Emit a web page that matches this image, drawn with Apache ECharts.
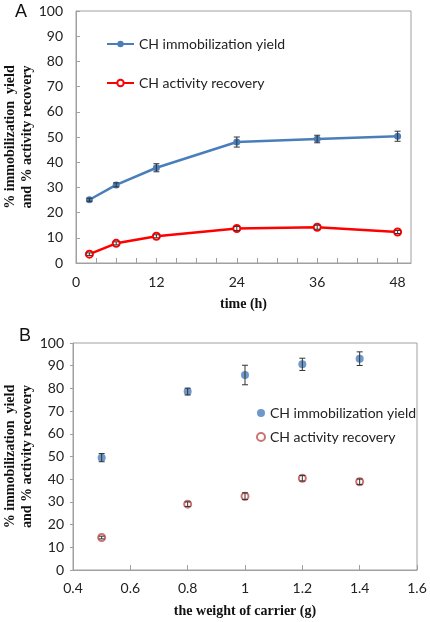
<!DOCTYPE html>
<html><head><meta charset="utf-8">
<script src="https://cdn.jsdelivr.net/npm/echarts@6/dist/echarts.min.js"></script>
<style>html,body{margin:0;padding:0;background:#fff}#c{width:430px;height:622px}</style>
</head><body><div id="c"></div>
<script>
// Panel A: time course
const timeA = [2, 6, 12, 24, 36, 48];
const yieldA = [25.1, 31.0, 37.8, 48.0, 49.2, 50.3];
const yieldErrA = [0.6, 0.8, 1.6, 2.0, 1.5, 2.0];
const recovA = [3.5, 7.8, 10.6, 13.7, 14.2, 12.3];
const recovErrA = [0.5, 0.6, 0.6, 0.8, 0.8, 0.6];
const xTicksA = [0, 12, 24, 36, 48];
// Panel B: weight of carrier
const weightB = [0.5, 0.8, 1.0, 1.2, 1.4];
const yieldB = [49.5, 78.6, 85.9, 90.6, 93.1];
const yieldErrB = [1.8, 1.5, 4.3, 2.7, 3.0];
const recovB = [14.3, 29.0, 32.5, 40.4, 38.9];
const recovErrB = [0.6, 1.0, 1.5, 1.2, 1.2];
const nameYield = 'CH immobilization yield';
const nameRecov = 'CH activity recovery';

const pairs = (xs, ys) => xs.map((x, i) => [x, ys[i]]);
const errs = (xs, ys, es) => xs.map((x, i) => [x, ys[i] - es[i], ys[i] + es[i]]);

function errRender(params, api) {
  const x = api.value(0), lo = api.value(1), hi = api.value(2);
  const a = api.coord([x, lo]), b = api.coord([x, hi]);
  const st = {stroke: '#333', lineWidth: 1};
  const w = 3;
  return {type: 'group', children: [
    {type: 'line', shape: {x1: a[0], y1: a[1], x2: b[0], y2: b[1]}, style: st},
    {type: 'line', shape: {x1: a[0]-w, y1: a[1], x2: a[0]+w, y2: a[1]}, style: st},
    {type: 'line', shape: {x1: b[0]-w, y1: b[1], x2: b[0]+w, y2: b[1]}, style: st}
  ]};
}

const tickFont = {fontFamily: 'Lato', fontSize: 14, color: '#222'};
const titleFont = {fontFamily: 'Liberation Serif', fontWeight: 'bold', fontSize: 14, color: '#111', lineHeight: 17};
const axisGray = '#A0A0A0';

const chart = echarts.init(document.getElementById('c'), null, {renderer: 'canvas'});
chart.setOption({
  animation: false,
  backgroundColor: '#fff',
  graphic: [
    {type: 'text', left: 15, top: 3, style: {text: 'A', font: '18px Liberation Sans', fill: '#111'}},
    {type: 'text', left: 19, top: 327, style: {text: 'B', font: '18px Liberation Sans', fill: '#111'}}
  ],
  legend: [
    {data: [nameYield, nameRecov], orient: 'vertical', left: 106, top: 37, padding: 0, itemWidth: 27, itemHeight: 8, itemGap: 25,
     textStyle: {fontFamily: 'Lato', fontSize: 14, color: '#222'}},
    {data: [{name: nameYield + ' ', icon: 'circle'}, {name: nameRecov + ' ', icon: 'emptyCircle'}], orient: 'vertical', left: 256, top: 406, padding: 0, itemWidth: 8, itemHeight: 8, itemGap: 10,
     textStyle: {fontFamily: 'Lato', fontSize: 14, color: '#222'}}
  ],
  grid: [
    {left: 76, top: 11, width: 335, height: 252, show: true, borderColor: axisGray, borderWidth: 1, outerBoundsMode: 'none'},
    {left: 73, top: 343, width: 344, height: 227, show: true, borderColor: axisGray, borderWidth: 1, outerBoundsMode: 'none'}
  ],
  xAxis: [
    {type: 'value', gridIndex: 0, min: 0, max: 50, interval: 3,
     name: 'time (h)', nameLocation: 'middle', nameGap: 33, nameMoveOverlap: false, nameTextStyle: titleFont,
     axisLine: {lineStyle: {color: axisGray}}, axisTick: {inside: true, length: 5, lineStyle: {color: axisGray}},
     axisLabel: Object.assign({margin: 12, showMaxLabel: false, formatter: v => (xTicksA.indexOf(v) >= 0 ? String(v) : '')}, tickFont),
     splitLine: {show: false}},
    {type: 'value', gridIndex: 1, min: 0.4, max: 1.6, interval: 0.2,
     name: 'the weight of carrier (g)', nameLocation: 'middle', nameGap: 33, nameMoveOverlap: false, nameTextStyle: titleFont,
     axisLine: {lineStyle: {color: axisGray}}, axisTick: {inside: true, length: 5, lineStyle: {color: axisGray}},
     axisLabel: Object.assign({margin: 11, formatter: v => String(+v.toFixed(1))}, tickFont),
     splitLine: {show: false}}
  ],
  yAxis: [
    {type: 'value', gridIndex: 0, min: 0, max: 100, interval: 10,
     name: '% immobilization  yield\nand % activity recovery', nameLocation: 'middle', nameGap: 40, nameMoveOverlap: false, nameTextStyle: titleFont,
     axisLine: {lineStyle: {color: axisGray}}, axisTick: {inside: true, length: 4, lineStyle: {color: axisGray}},
     axisLabel: Object.assign({margin: 13}, tickFont), splitLine: {show: false}},
    {type: 'value', gridIndex: 1, min: 0, max: 100, interval: 10,
     name: '% immobilization  yield\nand % activity recovery', nameLocation: 'middle', nameGap: 37, nameMoveOverlap: false, nameTextStyle: titleFont,
     axisLine: {lineStyle: {color: axisGray}}, axisTick: {inside: false, length: 3, lineStyle: {color: axisGray}},
     axisLabel: Object.assign({margin: 9}, tickFont), splitLine: {show: false}}
  ],
  series: [
    {name: nameYield, type: 'line', xAxisIndex: 0, yAxisIndex: 0, data: pairs(timeA, yieldA),
     symbol: 'circle', symbolSize: 7, itemStyle: {color: '#4A7EBB'}, lineStyle: {color: '#4A7EBB', width: 2.5}, z: 3},
    {name: nameRecov, type: 'line', xAxisIndex: 0, yAxisIndex: 0, data: pairs(timeA, recovA),
     symbol: 'emptyCircle', symbolSize: 7, itemStyle: {color: '#FF0000', borderWidth: 1.2}, lineStyle: {color: '#FF0000', width: 2.5}, z: 3},
    {type: 'custom', xAxisIndex: 0, yAxisIndex: 0, renderItem: errRender, data: errs(timeA, yieldA, yieldErrA), z: 4, silent: true},
    {type: 'custom', xAxisIndex: 0, yAxisIndex: 0, renderItem: errRender, data: errs(timeA, recovA, recovErrA), z: 4, silent: true},
    {name: nameYield + ' ', type: 'scatter', xAxisIndex: 1, yAxisIndex: 1, data: pairs(weightB, yieldB),
     symbol: 'circle', symbolSize: 8, itemStyle: {color: '#4A7EBB'}, z: 3},
    {name: nameRecov + ' ', type: 'scatter', xAxisIndex: 1, yAxisIndex: 1, data: pairs(weightB, recovB),
     symbol: 'emptyCircle', symbolSize: 7, itemStyle: {color: '#C0504D', borderColor: '#C0504D', borderWidth: 1}, z: 3},
    {type: 'custom', xAxisIndex: 1, yAxisIndex: 1, renderItem: errRender, data: errs(weightB, yieldB, yieldErrB), z: 4, silent: true},
    {type: 'custom', xAxisIndex: 1, yAxisIndex: 1, renderItem: errRender, data: errs(weightB, recovB, recovErrB), z: 4, silent: true}
  ]
});
</script></body></html>
